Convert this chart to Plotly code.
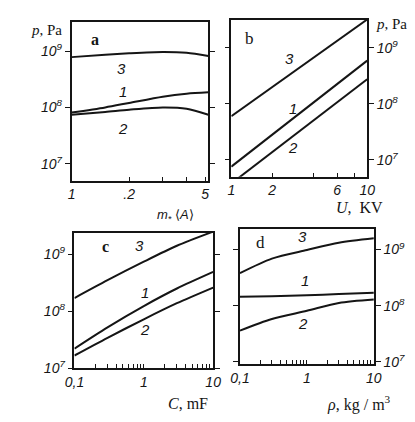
import plotly.graph_objects as go

W, H = 415, 422

# ---------------- data ----------------
# panel a : p vs m* <A>
a_m = [1, 1.5, 2, 3, 4, 5.2]
a_p3 = [7.8e8, 8.6e8, 9.1e8, 9.6e8, 9.3e8, 8.2e8]
a_p1 = [8.1e7, 1.0e8, 1.2e8, 1.55e8, 1.75e8, 1.85e8]
a_p2 = [7.4e7, 8.3e7, 9.1e7, 1.0e8, 9.5e7, 7.4e7]

# panel b : p vs U, kV
b_U = [1, 10]
b_p3 = [6.0e7, 3.2e9]
b_p1 = [7.6e6, 5.9e8]
b_p2 = [3.8e6, 2.75e8]

# panel c : p vs C, mF
c_C = [0.1, 0.3, 1, 3, 10]
c_p3 = [1.7e8, 3.5e8, 7.4e8, 1.41e9, 2.5e9]
c_p1 = [2.2e7, 5.2e7, 1.23e8, 2.5e8, 4.9e8]
c_p2 = [1.66e7, 3.4e7, 7.2e7, 1.38e8, 2.6e8]

# panel d : p vs rho, kg/m3
d_rho = [0.1, 0.3, 1, 3, 10]
d_p3 = [3.8e8, 6.9e8, 9.8e8, 1.32e9, 1.58e9]
d_p1 = [1.45e8, 1.48e8, 1.53e8, 1.62e8, 1.7e8]
d_p2 = [3.6e7, 5.8e7, 8.1e7, 1.12e8, 1.29e8]

curve_names = ["3", "1", "2"]
y_tickvals = [1e7, 1e8, 1e9]
y_ticktext = ["<i>10<sup>7</sup></i>", "<i>10<sup>8</sup></i>", "<i>10<sup>9</sup></i>"]

a_xtickvals = [1, 2, 5]
a_xticktext = ["<i>1</i>", "<i>.2</i>", "<i>5</i>"]
a_xminor = [3, 4]
b_xtickvals = [1, 2, 6, 10]
b_xticktext = ["<i>1</i>", "<i>2</i>", "<i>6</i>", "<i>10</i>"]
b_xminor = [4, 8]
cd_xtickvals = [0.1, 1, 10]
cd_xticktext = ["<i>0,1</i>", "<i>1</i>", "<i>10</i>"]
cd_xminor = [0.2, 0.3, 0.4, 0.5, 0.6, 0.7, 0.8, 0.9, 2, 3, 4, 5, 6, 7, 8, 9]

# ---------------- helpers ----------------
def fx(px):
    return px / W

def fy(py):
    return 1 - py / H

INK = "#151515"
FONT = "Liberation Sans"
SERIF = "Liberation Serif"

fig = go.Figure()

panels = [
    ("a", "x", "y", a_m, [a_p3, a_p1, a_p2], (56, 199, 14, 176), [0, 0.716], [6.70, 9.52], "left",
     (a_xtickvals, a_xticktext, a_xminor)),
    ("b", "x2", "y2", b_U, [b_p3, b_p1, b_p2], (223, 365, 12, 172), [0, 1], [6.70, 9.50], "right",
     (b_xtickvals, b_xticktext, b_xminor)),
    ("c", "x3", "y3", c_C, [c_p3, c_p1, c_p2], (59, 204, 229, 367), [-1, 1], [7.0, 9.38], "left",
     (cd_xtickvals, cd_xticktext, cd_xminor)),
    ("d", "x4", "y4", d_rho, [d_p3, d_p1, d_p2], (232, 372, 225, 363), [-1, 1], [6.96, 9.37], "right",
     (cd_xtickvals, cd_xticktext, cd_xminor)),
]

layout_axes = {}
for name, xa, ya, xd, series, box, xr, yr, yside, xt in panels:
    for nm, s in zip(curve_names, series):
        fig.add_trace(go.Scatter(
            x=xd, y=s, mode="lines", name=f"{name}{nm}", showlegend=False,
            line=dict(color=INK, width=2, shape="spline", smoothing=0.8),
            xaxis=xa, yaxis=ya, hoverinfo="skip"))
    x0, x1, y0, y1 = box
    xkey = "xaxis" if xa == "x" else "xaxis" + xa[1:]
    ykey = "yaxis" if ya == "y" else "yaxis" + ya[1:]
    layout_axes[xkey] = dict(
        type="log", range=xr, domain=[fx(x0), fx(x1)], anchor=ya,
        showline=True, linecolor=INK, linewidth=1.5, mirror=True,
        showgrid=False, zeroline=False,
        ticks="inside", ticklen=4, tickwidth=1.2, tickcolor=INK,
        tickvals=xt[0], ticktext=xt[1],
        minor=dict(tickvals=xt[2], ticks="inside", ticklen=4, tickwidth=1.2,
                   tickcolor=INK, showgrid=False),
        tickfont=dict(family=FONT, size=14, color=INK))
    layout_axes[ykey] = dict(
        type="log", range=yr, domain=[fy(y1), fy(y0)], anchor=xa, side=yside,
        showline=True, linecolor=INK, linewidth=1.5, mirror="ticks",
        showgrid=False, zeroline=False,
        ticks="outside", ticklen=5, tickwidth=1.2, tickcolor=INK,
        tickvals=y_tickvals, ticktext=y_ticktext,
        tickfont=dict(family=FONT, size=14, color=INK))

fig.update_layout(**layout_axes)

annotations = []

def ann(text, px, py, size=13, family=SERIF, xanchor="center"):
    annotations.append(dict(text=text, x=fx(px), y=fy(py), xref="paper", yref="paper",
                            showarrow=False, xanchor=xanchor, yanchor="middle",
                            font=dict(family=family, size=size, color=INK)))

# panel letters
ann("<b>a</b>", 80, 32, 16)
ann("b", 242, 31, 17)
ann("<b>c</b>", 91, 243, 16)
ann("d", 253, 239, 17)

# y titles
ann("<i>p</i>, Pa", 30, 22, 15)
ann("<i>p</i>, Pa", 390, 16, 15)

# x titles
ann("<i>m<sub>*</sub></i> ⟨<i>A</i>⟩", 165, 212, 13, FONT)
ann("<i>U</i>,  KV", 357, 203, 16)
ann("<i>C</i>, mF", 178, 403, 16)
ann("<i>ρ</i>, kg / m<sup>3</sup>", 356, 403, 16)

# curve numbers
for px, py, t in [(108, 62, "3"), (110, 85, "1"), (110, 123, "2"),
                  (284, 51, "3"), (287, 102, "1"), (287, 142, "2"),
                  (127, 242, "3"), (133, 290, "1"), (133, 328, "2"),
                  (297, 233, "3"), (300, 278, "1"), (298, 322, "2")]:
    ann(f"<i>{t}</i>", px, py, 15, FONT)

fig.update_layout(
    annotations=annotations,
    width=W, height=H,
    margin=dict(l=0, r=0, t=0, b=0),
    paper_bgcolor="white", plot_bgcolor="white",
    showlegend=False,
)

fig.write_html("out.html")
